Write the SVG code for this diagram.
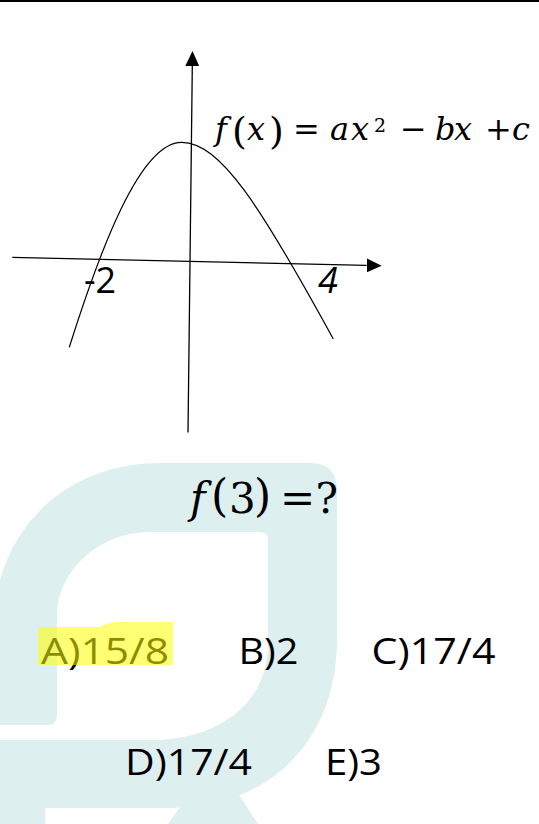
<svg xmlns="http://www.w3.org/2000/svg" width="539" height="824" viewBox="0 0 539 824">
  <style>
    .ax { stroke: #000; stroke-width: 1.3; fill: none; }
    .curve { stroke: #000; stroke-width: 1.2; fill: none; }
    .math { font-family: "DejaVu Serif", "Liberation Serif", serif; fill: #000; }
    .it { font-style: italic; }
    .opt { font-family: "Open Sans", "Liberation Sans", sans-serif; font-size: 36px; fill: #000; }
    .wm { fill: #deeff0; }
  </style>
  <defs>
    <marker id="arrow" viewBox="0 0 15 14" refX="0" refY="7" markerWidth="15" markerHeight="14" markerUnits="userSpaceOnUse" orient="auto">
      <path d="M0,0 L15,7 L0,14 Z" fill="#000"/>
    </marker>
  </defs>
  <rect x="0" y="0" width="539" height="824" fill="#fff"/>

  <g id="watermark">
    <path class="wm" d="M0,580 C20,510 80,463 160,463 L310,463 Q337,463 337,490 L337,640 C337,740 270,808 170,808 L0,808 L0,740 L160,740 C225,736 268,700 268,643 L268,540 Q268,532 260,532 L150,532 C100,532 57,570 57,617 L57,715 Q57,725 47,725 L0,725 Z"/>
    <rect class="wm" x="0" y="808" width="45" height="16"/>
    <path class="wm" d="M168,824 L185,800 L228,778 L258,824 Z"/>
  </g>

  <rect id="top-rule" x="0" y="0" width="539" height="2" fill="#000"/>

  <g id="connectors">
    <line id="x-axis" class="ax" x1="12.3" y1="257.3" x2="366.7" y2="265.4" marker-end="url(#arrow)"/>
    <line id="y-axis" class="ax" x1="188" y1="432.5" x2="192.3" y2="66" marker-end="url(#arrow)"/>
  </g>

  <g id="parabola">
    <path class="curve" d="M69.3,347.3 C100,250 140,142 181.7,142.3 C220,142.5 260,205 333.3,339"/>
  </g>

  <g id="axis-labels">
    <text class="opt" x="84" y="293" font-size="37">-2</text>
    <text class="opt" x="318" y="293" font-size="37" font-style="italic">4</text>
  </g>

  <g id="formula">
    <text class="math" y="140" font-size="32">
      <tspan class="it" x="215">f</tspan><tspan x="232" font-size="38" dy="4">(</tspan><tspan class="it" x="247" dy="-4">x</tspan><tspan x="269" font-size="38" dy="4">)</tspan><tspan x="293" dy="-4">=</tspan><tspan class="it" x="330">a</tspan><tspan class="it" x="351">x</tspan><tspan x="374" font-size="19" dy="-8">2</tspan><tspan x="400" dy="8">−</tspan><tspan class="it" x="435">b</tspan><tspan class="it" x="454">x</tspan><tspan x="485">+</tspan><tspan class="it" x="512">c</tspan>
    </text>
  </g>

  <g id="question">
    <text class="math" y="513" font-size="42">
      <tspan class="it" x="190">f</tspan><tspan x="211" font-size="44" dy="-2">(</tspan><tspan x="229" dy="2">3</tspan><tspan x="254" font-size="44" dy="-2">)</tspan><tspan x="280" dy="2">=</tspan><tspan x="315.5">?</tspan>
    </text>
  </g>

  <g id="option-a">
    <text class="opt" x="41" y="664" textLength="128" lengthAdjust="spacingAndGlyphs">A)15/8</text>
    <path d="M38,627 L100,627 Q110,622 120,622 L173,622 L173,665 L38,665 Z" fill="#ffff00" fill-opacity="0.55"/>
  </g>
  <g id="option-b">
    <text class="opt" x="238.5" y="664" textLength="60" lengthAdjust="spacingAndGlyphs">B)2</text>
  </g>
  <g id="option-c">
    <text class="opt" x="371.5" y="664" textLength="124" lengthAdjust="spacingAndGlyphs">C)17/4</text>
  </g>
  <g id="option-d">
    <text class="opt" x="125" y="775" textLength="127" lengthAdjust="spacingAndGlyphs">D)17/4</text>
  </g>
  <g id="option-e">
    <text class="opt" x="325" y="775" textLength="57" lengthAdjust="spacingAndGlyphs">E)3</text>
  </g>
</svg>
